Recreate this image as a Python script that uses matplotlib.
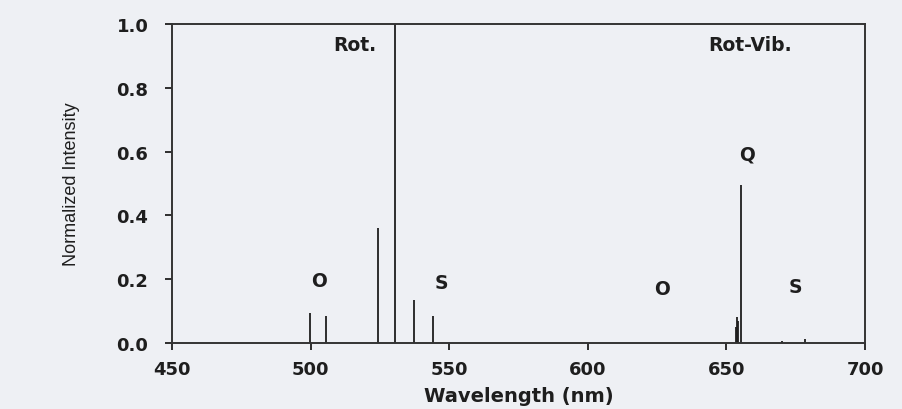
import numpy as np
import matplotlib.pyplot as plt

################ data ################
# pure rotational Raman lines
rot_wl = [499.8, 505.4, 524.4, 530.6, 537.2, 544.0]
rot_int = [0.094, 0.086, 0.36, 1.0, 0.135, 0.086]
# rotational-vibrational lines
rv_wl = [653.4, 653.7, 654.0, 655.3, 670.0, 678.3]
rv_int = [0.05, 0.08, 0.07, 0.496, 0.005, 0.012]

labels = ['Rot.', 'O', 'S', 'Rot-Vib.', 'Q', 'O', 'S']
label_x = [515.8, 503.2, 547.0, 658.6, 657.5, 626.6, 675.0]
label_y = [0.937, 0.197, 0.19, 0.937, 0.592, 0.17, 0.178]

x_ticks = [450, 500, 550, 600, 650, 700]
y_ticks = [0.0, 0.2, 0.4, 0.6, 0.8, 1.0]
######################################

bold_font = ['DejaVu Sans']
bg = '#eef0f4'
ink = '#1e1e1e'

fig = plt.figure(figsize=(9.03, 4.10), dpi=100, facecolor=bg)
ax = fig.add_axes([0.1905, 0.161, 0.7675, 0.778])
ax.set_facecolor(bg)

ax.vlines(rot_wl, 0, rot_int, color=ink, lw=1.3)
ax.vlines(rv_wl, 0, rv_int, color=ink, lw=1.3)

for t, x, y in zip(labels, label_x, label_y):
    ax.text(x, y, t, ha='center', va='center', fontsize=13.5, fontweight='bold',
            family=bold_font, color=ink)

ax.set_xlim(450, 700)
ax.set_ylim(0, 1.0)
ax.set_xticks(x_ticks)
ax.set_yticks(y_ticks)
ax.set_yticklabels(['%.1f' % v for v in y_ticks])
ax.tick_params(direction='out', length=5, width=1.3, labelsize=13, colors=ink)
ax.tick_params(axis='x', pad=7)
ax.tick_params(axis='y', pad=12)
for lab in ax.get_xticklabels() + ax.get_yticklabels():
    lab.set_fontweight('bold')
    lab.set_family(bold_font)
for sp in ax.spines.values():
    sp.set_linewidth(1.4)
    sp.set_color('#333333')

ax.set_xlabel('Wavelength (nm)', fontsize=14, fontweight='bold', family=bold_font,
              color=ink, labelpad=6)
ax.set_ylabel('Normalized Intensity', fontsize=13, family=['Liberation Sans'],
              color=ink, labelpad=26)

fig.savefig('out.png', dpi=100, facecolor=bg)
